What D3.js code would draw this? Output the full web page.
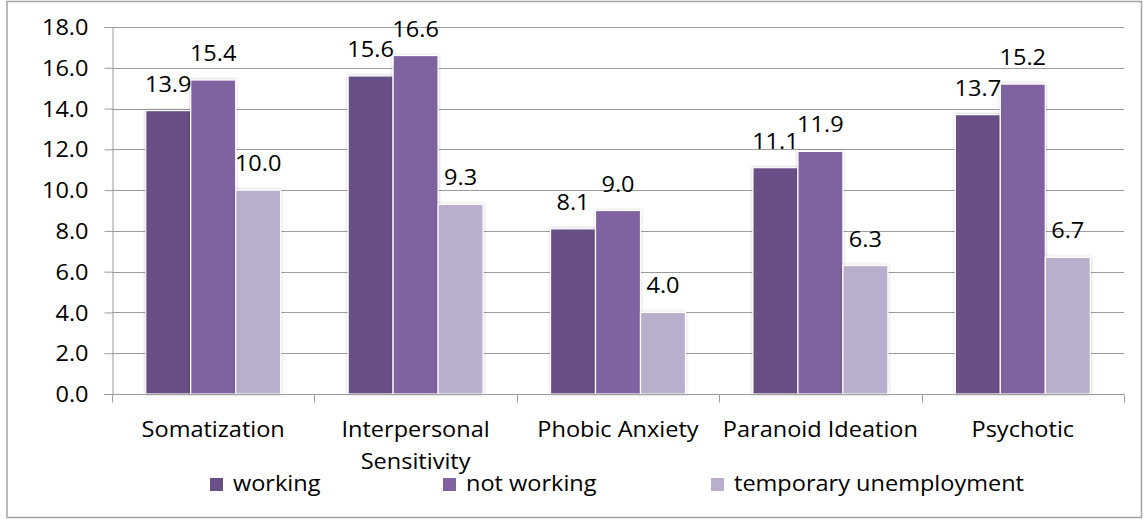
<!DOCTYPE html>
<html>
<head>
<meta charset="utf-8">
<script src="https://cdn.jsdelivr.net/npm/d3@7"></script>
<style>
  body { margin: 0; background: #fff; }
  svg text { font-family: "Open Sans", "Noto Sans", sans-serif; fill: #000; }
</style>
</head>
<body>
<div id="chart"></div>
<script>
// chart data
const categories = ["Somatization", "Interpersonal Sensitivity", "Phobic Anxiety", "Paranoid Ideation", "Psychotic"];
const seriesNames = ["working", "not working", "temporary unemployment"];
const working = [13.9, 15.6, 8.1, 11.1, 13.7];
const notWorking = [15.4, 16.6, 9.0, 11.9, 15.2];
const temporaryUnemployment = [10.0, 9.3, 4.0, 6.3, 6.7];
const yTicks = [0, 2, 4, 6, 8, 10, 12, 14, 16, 18];
const colors = ["#684f86", "#7f63a1", "#b9aecb"];

const width = 1144;
const height = 519;
const plot = {left: 112, right: 1124, top: 27, bottom: 394};
const fontSize = "21px";
const stretchX = 1.12; // the original text is a bit wider than it is tall

const allSeries = [working, notWorking, temporaryUnemployment];

const svg = d3.select("#chart").append("svg")
    .attr("width", width)
    .attr("height", height);

// widen text horizontally to match the original look
function stretch(sel) {
    sel.each(function() {
        const len = this.getComputedTextLength();
        d3.select(this)
            .attr("textLength", len * stretchX)
            .attr("lengthAdjust", "spacingAndGlyphs");
    });
}

// soft shadow behind the bars
const defs = svg.append("defs");
const shadow = defs.append("filter").attr("id", "shadow")
    .attr("x", "-20%").attr("y", "-20%").attr("width", "140%").attr("height", "140%");
shadow.append("feDropShadow")
    .attr("dx", 0).attr("dy", 0)
    .attr("stdDeviation", 1.5)
    .attr("flood-color", "#000")
    .attr("flood-opacity", 0.25);

// outer frame
svg.append("rect")
    .attr("x", 7).attr("y", 1.5)
    .attr("width", 1134.5).attr("height", 516)
    .attr("fill", "none")
    .attr("stroke", "#a3a3a3")
    .attr("stroke-width", 1.5);

const y = d3.scaleLinear().domain([0, 18]).range([plot.bottom, plot.top]);
const x = d3.scaleBand().domain(categories).range([plot.left, plot.right]).padding(0);
// gap width 50% of the group
const groupWidth = x.bandwidth() / 1.5;
const xInner = d3.scaleBand().domain(d3.range(seriesNames.length)).range([0, groupWidth]);

// gridlines
svg.append("g")
    .selectAll("line")
    .data(yTicks.filter(d => d > 0))
    .enter().append("line")
    .attr("x1", plot.left).attr("x2", plot.right)
    .attr("y1", d => Math.round(y(d)) + 0.5)
    .attr("y2", d => Math.round(y(d)) + 0.5)
    .attr("stroke", "#9c9c9c")
    .attr("stroke-width", 1);

// y axis
const yAxis = svg.append("g")
    .attr("transform", `translate(${plot.left + 0.5},0)`)
    .call(d3.axisLeft(y).tickValues(yTicks).tickFormat(d3.format(".1f")).tickSize(8).tickPadding(16));
yAxis.select(".domain").attr("stroke", "#9c9c9c");
yAxis.selectAll(".tick line").attr("stroke", "#9c9c9c");
yAxis.selectAll(".tick text")
    .style("font-size", fontSize)
    .attr("dy", "0.36em")
    .call(stretch);

// bars
const groups = svg.append("g").selectAll("g")
    .data(categories)
    .enter().append("g")
    .attr("transform", c => `translate(${x(c) + (x.bandwidth() - groupWidth) / 2},0)`);

groups.selectAll("rect")
    .data((c, ci) => allSeries.map((s, si) => ({si: si, value: s[ci]})))
    .enter().append("rect")
    .attr("x", d => xInner(d.si))
    .attr("width", xInner.bandwidth())
    .attr("y", d => y(d.value))
    .attr("height", d => y(0) - y(d.value))
    .attr("fill", d => colors[d.si])
    .attr("stroke", "#fff")
    .attr("stroke-width", 1.2)
    .attr("filter", "url(#shadow)");

groups.selectAll("text.value")
    .data((c, ci) => allSeries.map((s, si) => ({si: si, value: s[ci]})))
    .enter().append("text")
    .attr("class", "value")
    .attr("x", d => xInner(d.si) + xInner.bandwidth() / 2)
    .attr("y", d => y(d.value) - 19)
    .attr("text-anchor", "middle")
    .style("font-size", fontSize)
    .text(d => d.value.toFixed(1))
    .call(stretch);

// x axis
const xAxis = svg.append("g")
    .attr("transform", `translate(0,${plot.bottom + 0.5})`);
xAxis.append("line")
    .attr("x1", plot.left - 8).attr("x2", plot.right)
    .attr("stroke", "#9c9c9c");
xAxis.selectAll("line.tick")
    .data(d3.range(categories.length + 1))
    .enter().append("line")
    .attr("class", "tick")
    .attr("x1", i => Math.round(plot.left + i * x.step()) + 0.5)
    .attr("x2", i => Math.round(plot.left + i * x.step()) + 0.5)
    .attr("y1", 0).attr("y2", 8)
    .attr("stroke", "#9c9c9c");

const labels = svg.append("g").selectAll("text")
    .data(categories)
    .enter().append("text")
    .attr("x", c => x(c) + x.bandwidth() / 2)
    .attr("y", 437)
    .attr("text-anchor", "middle")
    .style("font-size", fontSize)
    .text(c => c);

// wrap labels that do not fit into their band
labels.each(function(c) {
    const t = d3.select(this);
    if (this.getComputedTextLength() * stretchX <= x.bandwidth() - 4) {
        t.call(stretch);
        return;
    }
    const words = c.split(" ");
    t.text(null);
    words.forEach((w, i) => {
        t.append("tspan")
            .attr("x", x(c) + x.bandwidth() / 2)
            .attr("dy", i === 0 ? 0 : 32)
            .text(w);
    });
    t.selectAll("tspan").call(stretch);
});

// legend
const legendX = [210, 443, 711];
const legend = svg.append("g").selectAll("g")
    .data(seriesNames)
    .enter().append("g")
    .attr("transform", (d, i) => `translate(${legendX[i]},478)`);
legend.append("rect")
    .attr("width", 13).attr("height", 13)
    .attr("fill", (d, i) => colors[i]);
legend.append("text")
    .attr("x", 23)
    .attr("y", 13)
    .style("font-size", fontSize)
    .text(d => d)
    .call(stretch);
</script>
</body>
</html>
